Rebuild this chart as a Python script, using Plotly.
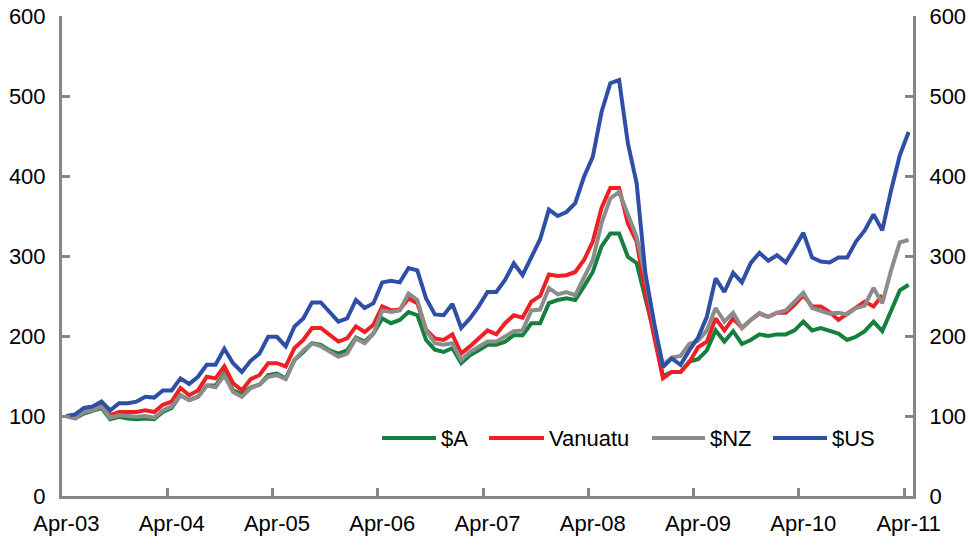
import plotly.graph_objects as go

# ---- data ----
mon_names = ["Jan", "Feb", "Mar", "Apr", "May", "Jun", "Jul", "Aug", "Sep", "Oct", "Nov", "Dec"]
months = []
for k in range(97):
    m = (3 + k) % 12
    y = 3 + (3 + k) // 12
    months.append(f"{mon_names[m]}-{y:02d}")

tick_labels = ["Apr-03", "Apr-04", "Apr-05", "Apr-06", "Apr-07", "Apr-08", "Apr-09", "Apr-10", "Apr-11"]

aud = [100, 97, 103, 106, 110, 96, 99, 97, 96, 97,
       96, 105, 110, 126, 120, 124, 138, 138, 153, 132,
       127, 136, 139, 151, 153, 147, 170, 180, 191, 189,
       182, 178, 182, 198, 193, 203, 222, 216, 220, 230,
       226, 195, 183, 180, 185, 166, 176, 182, 189, 189,
       193, 201, 201, 216, 216, 241, 245, 247, 245, 262,
       280, 312, 328, 328, 299, 291, 249, 203, 150, 155,
       155, 168, 171, 182, 207, 193, 206, 190, 195, 202,
       200, 202, 202, 207, 218, 207, 210, 206, 203, 195,
       199, 206, 218, 206, 232, 257, 264]

vanuatu = [100, 99, 106, 109, 113, 101, 105, 105, 105, 107,
           105, 114, 118, 135, 126, 132, 149, 147, 162, 141,
           132, 146, 151, 166, 166, 162, 185, 195, 210, 210,
           201, 193, 197, 212, 205, 214, 237, 232, 233, 247,
           241, 208, 197, 195, 202, 178, 187, 197, 207, 202,
           216, 226, 223, 243, 250, 277, 275, 276, 280, 295,
           318, 360, 385, 385, 341, 318, 253, 199, 147, 155,
           155, 167, 186, 193, 222, 207, 222, 210, 220, 228,
           224, 229, 229, 239, 251, 237, 237, 230, 220, 228,
           236, 243, 237, 251, None, None, None]

nzd = [100, 97, 105, 107, 112, 98, 101, 100, 99, 100,
       98, 107, 112, 126, 120, 124, 138, 136, 151, 130,
       124, 135, 139, 149, 151, 146, 170, 182, 191, 187,
       180, 174, 178, 197, 191, 203, 232, 230, 232, 253,
       245, 207, 191, 189, 191, 170, 180, 187, 193, 193,
       200, 206, 207, 232, 233, 260, 252, 255, 251, 274,
       295, 341, 372, 380, 353, 324, 274, 212, 164, 173,
       175, 190, 194, 207, 235, 218, 229, 210, 220, 229,
       224, 229, 232, 243, 254, 235, 232, 228, 229, 227,
       235, 238, 260, 241, 282, 317, 320]

usd = [100, 102, 110, 112, 118, 107, 116, 116, 118, 124,
       123, 132, 132, 147, 140, 149, 164, 164, 184, 166,
       155, 169, 178, 199, 199, 187, 212, 222, 242, 242,
       230, 218, 222, 245, 235, 241, 267, 269, 267, 285,
       282, 247, 227, 226, 240, 210, 222, 237, 255, 255,
       270, 291, 276, 300, 321, 358, 350, 355, 366, 399,
       424, 480, 516, 520, 441, 391, 278, 216, 161, 172,
       164, 182, 198, 224, 272, 255, 279, 267, 291, 304,
       294, 301, 292, 310, 329, 298, 293, 292, 298, 298,
       318, 332, 352, 332, 382, 426, 455]

series_names = ["$A", "Vanuatu", "$NZ", "$US"]
series_values = [aud, vanuatu, nzd, usd]
series_colors = ["#15803D", "#EE2024", "#8C8C8C", "#2E4FA5"]

# ---- figure ----
W, H = 974, 537
L, R, T, B = 62, 61, 16, 41
font_family = "Liberation Sans, Arial, sans-serif"
fs = 22
axis_col = "#878787"

fig = go.Figure()
for name, vals, col in zip(series_names, series_values, series_colors):
    fig.add_trace(go.Scatter(x=months, y=vals, name=name, mode="lines",
                             line=dict(color=col, width=4), showlegend=False))

# dummy trace so right axis renders
fig.add_trace(go.Scatter(x=[months[0]], y=[None], yaxis="y2", showlegend=False,
                         hoverinfo="skip", mode="lines"))

common_y = dict(range=[0, 600], dtick=100, ticks="inside", ticklen=8, tickwidth=2.5,
                tickcolor=axis_col, showline=True, linecolor=axis_col, linewidth=3,
                showgrid=False, zeroline=False, automargin=False,
                tickfont=dict(family=font_family, size=fs, color="#000000"),
                ticklabelstandoff=9)

fig.update_layout(
    width=W, height=H,
    margin=dict(l=L, r=R, t=T, b=B),
    paper_bgcolor="white", plot_bgcolor="white",
    xaxis=dict(type="category", categoryorder="array", categoryarray=months,
               range=[-0.5, 96.5], tickmode="array", tickvals=tick_labels, ticktext=tick_labels,
               tickson="boundaries", ticks="inside", ticklen=8, tickwidth=2.5, tickcolor=axis_col,
               showline=True, linecolor=axis_col, linewidth=3, showgrid=False, zeroline=False,
               tickangle=0, automargin=False,
               tickfont=dict(family=font_family, size=fs, color="#000000"),
               ticklabelstandoff=6),
    yaxis=dict(side="left", **common_y),
    yaxis2=dict(side="right", overlaying="y", **common_y),
)

# ---- custom legend (positions in window pixels) ----
pw = W - L - R
ph = H - T - B
def px(xp):
    return (xp - L) / pw
def py(yp):
    return (H - B - yp) / ph

leg_y = 438
leg_lines = [(382, 436), (489, 544), (652, 705), (773, 827)]
for (x0, x1), name, col in zip(leg_lines, series_names, series_colors):
    fig.add_shape(type="line", xref="paper", yref="paper",
                  x0=px(x0), x1=px(x1), y0=py(leg_y), y1=py(leg_y),
                  line=dict(color=col, width=4))
    fig.add_annotation(xref="paper", yref="paper", x=px(x1 + 3), y=py(leg_y),
                       text=name, showarrow=False, xanchor="left", yanchor="middle",
                       font=dict(family=font_family, size=fs, color="#000000"))

fig.write_html("out.html",
               config={"displayModeBar": False},
               post_script="document.body.style.margin='0';document.body.style.overflow='hidden';")
